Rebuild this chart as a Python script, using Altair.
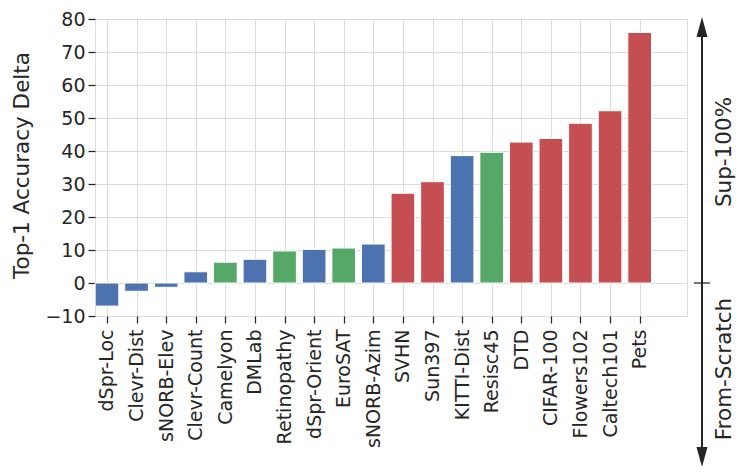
import json
import altair as alt
import pandas as pd

datasets = ["dSpr-Loc", "Clevr-Dist", "sNORB-Elev", "Clevr-Count", "Camelyon", "DMLab",
            "Retinopathy", "dSpr-Orient", "EuroSAT", "sNORB-Azim", "SVHN", "Sun397",
            "KITTI-Dist", "Resisc45", "DTD", "CIFAR-100", "Flowers102", "Caltech101", "Pets"]
deltas = [-7.0, -2.5, -1.3, 3.4, 6.3, 7.2, 9.7, 10.2, 10.6, 11.8, 27.2, 30.7,
          38.6, 39.6, 42.7, 43.8, 48.4, 52.2, 75.9]
groups = ["Structured", "Structured", "Structured", "Structured", "Specialized", "Structured",
          "Specialized", "Structured", "Specialized", "Structured", "Natural", "Natural",
          "Structured", "Specialized", "Natural", "Natural", "Natural", "Natural", "Natural"]
y_ticks = [-10, 0, 10, 20, 30, 40, 50, 60, 70, 80]
side_labels = ["Sup-100%", "From-Scratch"]

df = pd.DataFrame({"dataset": datasets, "delta": deltas, "group": groups,
                   "idx": list(range(len(datasets)))})

FONT = "DejaVu Sans"
INK = "#262626"
FS = 19
FS_T = 21.5
W, H = 592, 297

label_expr = json.dumps(datasets) + "[datum.value]"

x_scale = alt.Scale(domain=[-0.405, 19.6], nice=False, zero=False)
y_scale = alt.Scale(domain=[-10, 80], nice=False, zero=False)

y_axis = alt.Axis(values=y_ticks, tickCount=len(y_ticks), tickSize=7, tickWidth=1.25,
                  tickColor=INK, labelFontSize=FS, labelColor=INK, labelFont=FONT,
                  labelPadding=3, domain=False, grid=True, gridColor="#dcdcdc", gridWidth=1,
                  title="Top-1 Accuracy Delta", titleFontSize=FS_T, titleFont=FONT,
                  titleFontWeight="normal", titleColor=INK, titleBaseline="alphabetic",
                  titleX=-67, titleY=146, labelFlush=False, labelOverlap=False)

bars = alt.Chart(df).mark_bar(stroke="white", strokeWidth=1).transform_calculate(
    x0="datum.idx - 0.4", x1="datum.idx + 0.4", base="0"
).encode(
    x=alt.X("x0:Q", scale=x_scale,
            axis=alt.Axis(values=list(range(len(datasets))), labelExpr=label_expr,
                          labelAngle=270, labelAlign="right", labelBaseline="middle",
                          labelPadding=6, tickSize=7, tickWidth=1.25, tickColor=INK,
                          labelFontSize=FS, labelColor=INK, labelFont=FONT,
                          domain=False, grid=True, gridColor="#dcdcdc", gridWidth=1,
                          title=None, labelOverlap=False, labelFlush=False)),
    x2="x1:Q",
    y=alt.Y("delta:Q", scale=y_scale, axis=y_axis),
    y2="base:Q",
    color=alt.Color("group:N",
                    scale=alt.Scale(domain=["Structured", "Specialized", "Natural"],
                                    range=["#4C72B0", "#55A868", "#C44E52"]),
                    legend=None),
)

one = pd.DataFrame({"k": [0]})
zero_row = pd.DataFrame({"delta": [0]})

arrow_line = alt.Chart(one).mark_rule(color=INK, strokeWidth=2).encode(
    x=alt.value(607), y=alt.value(2), y2=alt.value(444))
head_up = alt.Chart(one).mark_point(shape="M0,-1L0.55,1L-0.55,1Z", filled=True,
                                    color=INK, opacity=1, size=400).encode(
    x=alt.value(607), y=alt.value(8))
head_down = alt.Chart(one).mark_point(shape="M0,1L0.55,-1L-0.55,-1Z", filled=True,
                                      color=INK, opacity=1, size=400).encode(
    x=alt.value(607), y=alt.value(438))
zero_tick = alt.Chart(zero_row).mark_rule(color=INK, strokeWidth=1.25).encode(
    x=alt.value(599), x2=alt.value(615), y=alt.Y("delta:Q", scale=y_scale, axis=y_axis))
txt_up = alt.Chart(one).mark_text(text=side_labels[0], angle=270, align="center",
                                  baseline="middle", font=FONT, fontSize=FS_T,
                                  color=INK).encode(x=alt.value(630), y=alt.value(133))
txt_down = alt.Chart(one).mark_text(text=side_labels[1], angle=270, align="center",
                                    baseline="middle", font=FONT, fontSize=FS_T,
                                    color=INK).encode(x=alt.value(630), y=alt.value(350))

chart = alt.layer(bars, arrow_line, head_up, head_down, zero_tick, txt_up, txt_down).properties(
    width=W, height=H,
    autosize=alt.AutoSizeParams(type="none"),
    padding={"left": 87, "top": 11, "right": 52, "bottom": 150},
).configure_view(stroke=None).configure_axis(labelOverlap=False).configure(background="white")

chart.save("out.html", embed_options={"renderer": "svg", "actions": False})
